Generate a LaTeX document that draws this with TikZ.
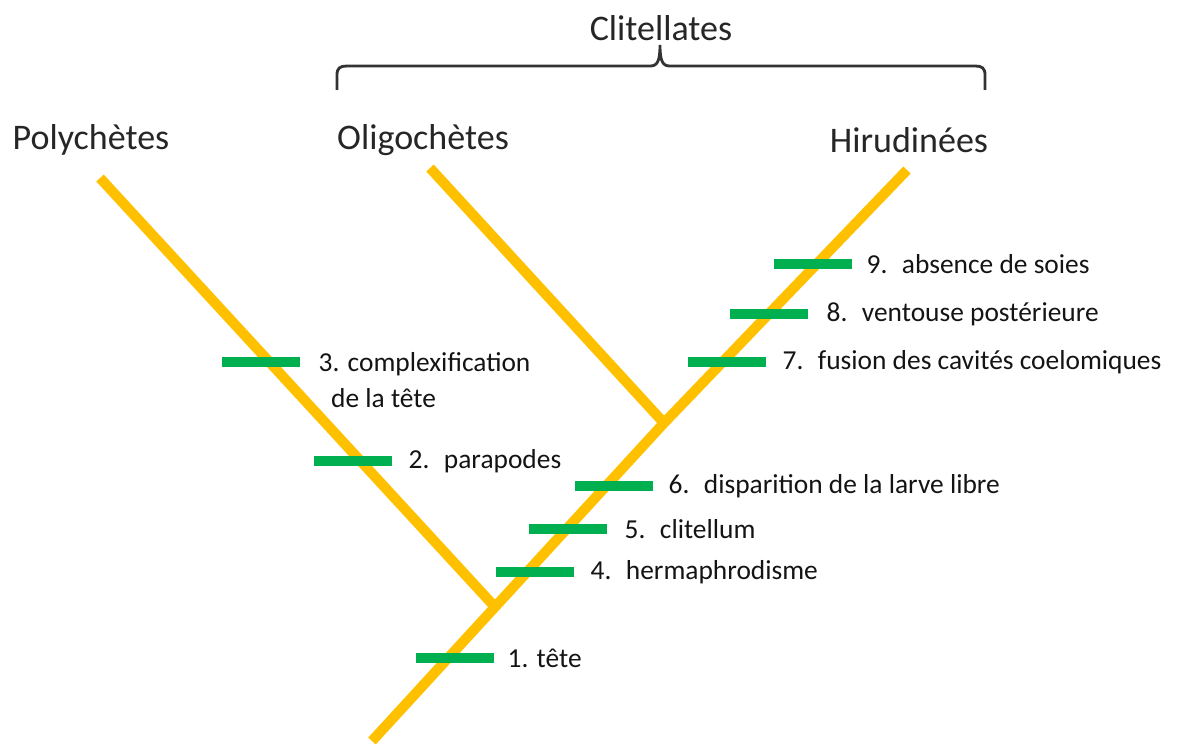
\documentclass[tikz,border=0pt]{standalone}
\usepackage{fontspec}
\setmainfont{Carlito}
\usetikzlibrary{positioning}
\definecolor{branchgold}{HTML}{FFC000}
\definecolor{traitgreen}{HTML}{00B050}

\begin{document}
\begin{tikzpicture}[
    x=0.02cm, y=-0.02cm,
    branch/.style={draw=branchgold, line width=5.8pt, line cap=butt, line join=miter},
    synapo/.style={fill=traitgreen, minimum width=1.56cm, minimum height=0.2cm, inner sep=0pt},
    trait/.style={font=\fontsize{15.6}{20.5}\selectfont, text=black!92, inner sep=0pt, anchor=west, align=left},
    taxon/.style={font=\fontsize{20.5}{24}\selectfont, text=black!85},
    brace/.style={draw=black!80, line width=1.6pt}
  ]
    \useasboundingbox (0,0) rectangle (1178,746);

    % taxa
    \node[taxon] (clit) at (661,28) {Clitellates};
    \node[taxon] (polyname) at (91,140) {Polychètes};
    \node[taxon] (oligoname) at (423,140) {Oligochètes};
    \node[taxon] (hiruname) at (909,140) {Hirudinées};

    % brace over the clitellates
    \coordinate (bl) at (337,90);
    \coordinate (br) at (985,90);
    \coordinate (bt) at (660,45);
    \draw[brace] (bl) -- (337,75) .. controls (337,68) and (340,66) .. (347,66) -- (650,66)
      .. controls (657,66) and (660,62) .. (bt) .. controls (660,62) and (663,66) .. (670,66)
      -- (975,66) .. controls (982,66) and (985,68) .. (985,75) -- (br);

    % tree
    \coordinate (root) at (372,741);
    \coordinate (n1) at (495,607);
    \coordinate (n2) at (664,423);
    \coordinate (hiru) at (907,170);
    \coordinate (poly) at (100,178);
    \coordinate (oligo) at (430,168);
    \draw[branch] (root) -- (n1) -- (n2) -- (hiru);
    \draw[branch] (poly) -- (n1);
    \draw[branch] (oligo) -- (n2);

    % synapomorphies
    \node[synapo] (s1) at (455,658) {};
    \node[synapo] (s2) at (353,461) {};
    \node[synapo] (s3) at (261,362) {};
    \node[synapo] (s4) at (535,572) {};
    \node[synapo] (s5) at (568,529) {};
    \node[synapo] (s6) at (614,486) {};
    \node[synapo] (s7) at (727,362) {};
    \node[synapo] (s8) at (769,314) {};
    \node[synapo] (s9) at (813,264) {};

    \node[trait, right=0.26cm of s1] (t1) {1. tête};
    \node[trait, right=0.32cm of s2] (t2) {2.~ parapodes};
    \node[trait, right=0.36cm of s3, anchor=north west, yshift=0.2cm] (t3) {3. complexification\\\hspace*{0.25cm}de la tête};
    \node[trait, right=0.32cm of s4] (t4) {4.~ hermaphrodisme};
    \node[trait, right=0.34cm of s5] (t5) {5.~ clitellum};
    \node[trait, right=0.3cm of s6] (t6) {6.~ disparition de la larve libre};
    \node[trait, right=0.32cm of s7] (t7) {7.~ fusion des cavités coelomiques};
    \node[trait, right=0.36cm of s8] (t8) {8.~ ventouse postérieure};
    \node[trait, right=0.28cm of s9] (t9) {9.~ absence de soies};
  \end{tikzpicture}
\end{document}
